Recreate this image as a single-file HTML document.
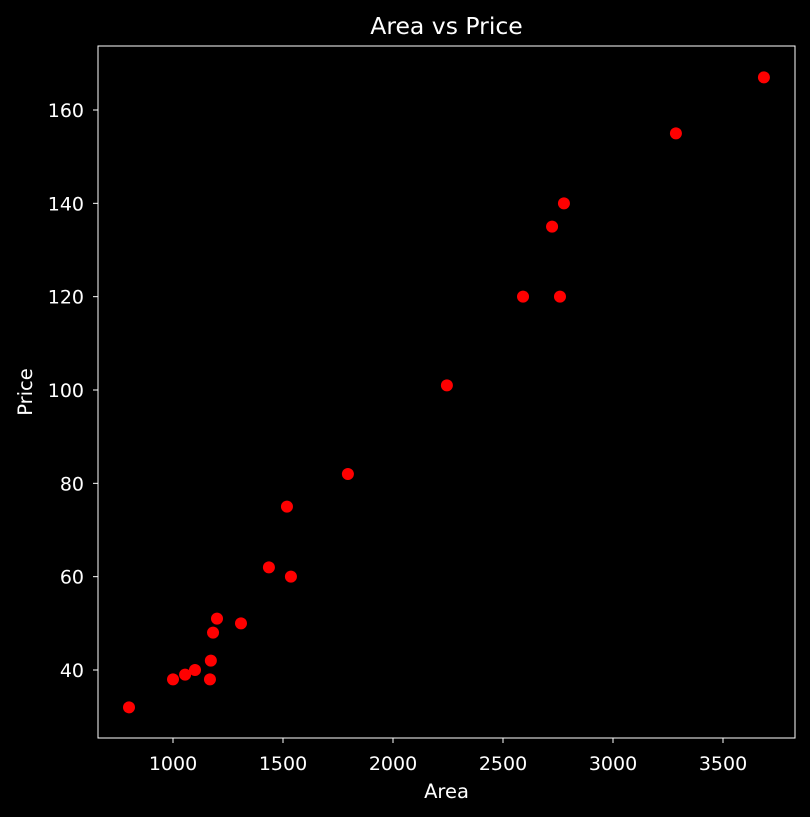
<!DOCTYPE html>
<html><head><meta charset="utf-8"><style>
html,body{margin:0;padding:0;background:#000;overflow:hidden;width:810px;height:817px;}
svg{display:block;}
svg text{font-family:"DejaVu Sans","Liberation Sans",sans-serif;fill:#fff;}
</style></head><body>
<svg id="chart" width="810" height="817">
<rect width="810" height="817" fill="#000"/>
<g id="axes"></g>
<g id="points"></g>
</svg>
<script>
const areas=[800,1000,1055,1100,1168,1172,1182,1200,1309,1436,1518,1536,1795,2245,2591,2723,2759,2777,3286,3686];
const prices=[32,38,39,40,38,42,48,51,50,62,75,60,82,101,120,135,120,140,155,167];
const xTicks=[1000,1500,2000,2500,3000,3500];
const yTicks=[40,60,80,100,120,140,160];
const L=98,R=795,T=46,B=738;
const xs=v=>173+(v-1000)*0.22;
const ys=v=>670-(v-40)*(560/120);
const NS="http://www.w3.org/2000/svg";
const ax=document.getElementById('axes'),pg=document.getElementById('points');
function mk(tag,attrs,parent){const e=document.createElementNS(NS,tag);for(const k in attrs)e.setAttribute(k,attrs[k]);parent.appendChild(e);return e;}
const frame=mk('rect',{x:L,y:T,width:R-L,height:B-T,fill:'none',stroke:'#fff','stroke-width':1},ax);


xTicks.forEach(v=>{const x=xs(v);
 const t=mk('line',{x1:x,x2:x,y1:B,y2:B+5,stroke:'#fff'},ax);
 
 
 const l=mk('text',{x:x,y:770,'text-anchor':'middle','font-size':19},ax);l.textContent=v;
 
 });
yTicks.forEach(v=>{const y=ys(v);
 const t=mk('line',{x1:L-5,x2:L,y1:y,y2:y,stroke:'#fff'},ax);
 
 
 const l=mk('text',{x:L-14,y:y+7,'text-anchor':'end','font-size':19},ax);l.textContent=v;
 
 });
const xt=mk('text',{x:(L+R)/2,y:798,'text-anchor':'middle','font-size':19.5},ax);xt.textContent='Area';


const yt=mk('text',{x:32,y:(T+B)/2,'text-anchor':'middle','font-size':19.5,transform:`rotate(-90 32 ${(T+B)/2})`},ax);yt.textContent='Price';


const tt=mk('text',{x:(L+R)/2,y:34,'text-anchor':'middle','font-size':23.5},ax);tt.textContent='Area vs Price';


areas.forEach((a,i)=>{const c=mk('circle',{cx:xs(a),cy:ys(prices[i]),r:6,fill:'#ff0000'},pg);
 
 });
</script>
</body></html>
